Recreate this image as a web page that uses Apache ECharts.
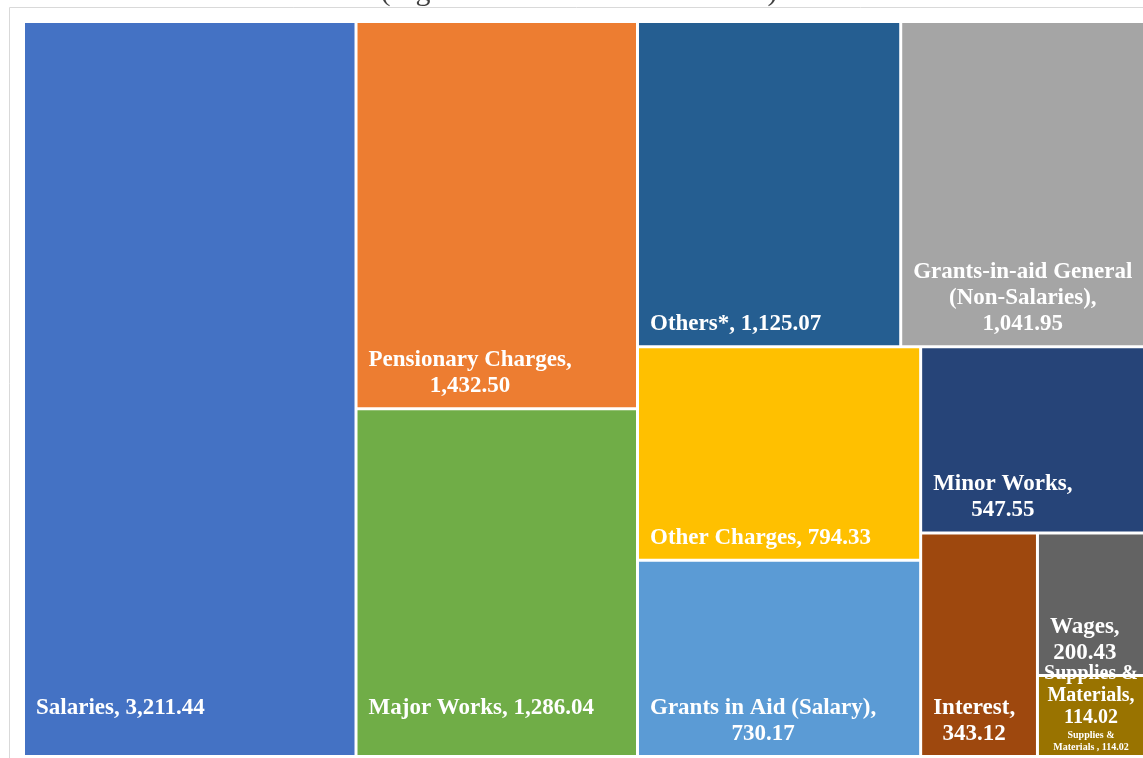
<!DOCTYPE html>
<html>
<head>
<meta charset="utf-8">
<title>Expenditure treemap</title>
<script src="https://cdn.jsdelivr.net/npm/echarts@6/dist/echarts.min.js"></script>
<style>
  html, body { margin: 0; padding: 0; background: #fff; }
  #chartBox { width: 1143px; height: 758px; }
</style>
</head>
<body>
<div id="chartBox"></div>
<script>
// figures are in crore of rupees
var names = ['Salaries', 'Pensionary Charges', 'Major Works', 'Others*', 'Grants-in-aid General\n(Non-Salaries)',
  'Other Charges', 'Grants in Aid (Salary)', 'Minor Works', 'Interest', 'Wages', 'Supplies &\nMaterials'];
var values = [3211.44, 1432.50, 1286.04, 1125.07, 1041.95, 794.33, 730.17, 547.55, 343.12, 200.43, 114.02];
// value printed on its own line under the name
var valueOnNewLine = [false, true, false, false, true, false, true, true, true, true, true];

var palette = ['#4472C4', '#ED7D31', '#70AD47', '#255E91', '#A5A5A5', '#FFC000',
  '#5B9BD5', '#264478', '#9E480E', '#636363', '#997300'];
var serif = '"Liberation Serif", "Times New Roman", serif';
// these two labels sit one line higher in the original
var labelLift = { 'Salaries': 26, 'Major Works': 26 };

function fmt(v) {
  return v.toLocaleString('en-US', { minimumFractionDigits: 2, maximumFractionDigits: 2 });
}

function wrap(tag, s) {
  return s.split('\n').map(function (line) { return '{' + tag + '|' + line + '}'; }).join('\n');
}

var treeData = names.map(function (n, i) {
  var item = { name: n, value: values[i], itemStyle: { color: palette[i] } };
  if (i === names.length - 1) {
    // small box: big label on top plus the small duplicate one
    item.label = {
      position: 'insideTop',
      padding: [-14, 0, 0, 0],
      formatter: function (p) {
        return wrap('b', p.name + ',\n' + fmt(p.value)) + '\n' + wrap('s', p.name + ' , ' + fmt(p.value));
      },
      rich: {
        b: { fontFamily: serif, fontWeight: 'bold', fontSize: 20, lineHeight: 22, color: '#fff', align: 'center' },
        s: { fontFamily: serif, fontWeight: 'bold', fontSize: 10, lineHeight: 12, color: '#fff', align: 'center' }
      }
    };
  }
  return item;
});

var myChart = echarts.init(document.getElementById('chartBox'));
var option = {
  animation: false,
  title: {
    text: '(Figures shown are in crore of \u20b9)',
    left: 574,
    top: -28,
    textAlign: 'center',
    textStyle: { fontFamily: serif, fontSize: 30, fontWeight: 'normal', color: '#404040' }
  },
  graphic: [{
    type: 'rect',
    silent: true,
    z: -1,
    shape: { x: 9.5, y: 7.5, width: 1300, height: 900 },
    style: { fill: 'none', stroke: '#d9d9d9', lineWidth: 1 }
  }],
  series: [{
    type: 'treemap',
    left: 25,
    top: 23,
    width: 1118,
    height: 732,
    roam: false,
    nodeClick: false,
    breadcrumb: { show: false },
    squareRatio: 0.85,
    visibleMin: 0,
    data: treeData,
    levels: [{ itemStyle: { gapWidth: 3, borderWidth: 0, borderColor: '#fff' } }],
    label: {
      show: true,
      position: 'insideBottomLeft',
      distance: 0,
      padding: 0,
      overflow: 'none',
      color: '#fff',
      fontFamily: serif,
      fontWeight: 'bold',
      fontSize: 23,
      lineHeight: 26,
      formatter: function (p) {
        var i = names.indexOf(p.name);
        return p.name + ',' + (valueOnNewLine[i] ? '\n' : ' ') + fmt(p.value);
      }
    },
    labelLayout: function (p) {
      if (p.text.indexOf('{b|') === 0) return;
      var lift = 0;
      for (var k in labelLift) {
        if (p.text.indexOf(k + ',') === 0) lift = labelLift[k];
      }
      return {
        x: p.rect.x + 11 + p.labelRect.width / 2,
        y: p.rect.y + p.rect.height - 8 - lift,
        align: 'center',
        verticalAlign: 'bottom'
      };
    }
  }]
};
myChart.setOption(option);
</script>
</body>
</html>
